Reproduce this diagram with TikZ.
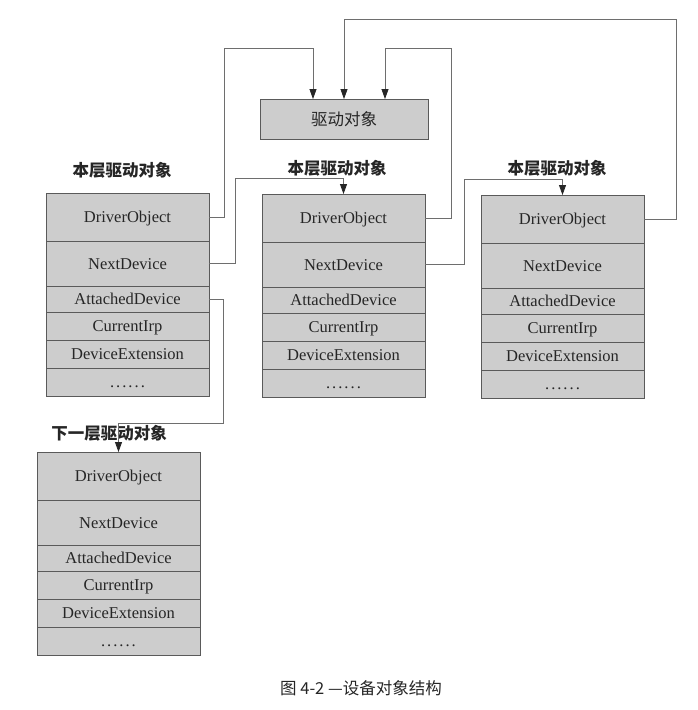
\documentclass[tikz,border=0pt]{standalone}
\usepackage{fontspec}
\setmainfont{Liberation Serif}
\newfontfamily\cjk{Noto Sans CJK SC}
\usetikzlibrary{arrows.meta,positioning}
\definecolor{boxfill}{HTML}{CDCDCD}
\definecolor{boxline}{HTML}{5A5A5A}
\definecolor{wire}{HTML}{6E6E6E}
\definecolor{ink}{HTML}{262626}
\tikzset{
  row/.style={draw=boxline, fill=boxfill, line width=0.9pt, minimum width=163pt,
    inner sep=0pt, outer sep=0pt, anchor=north, text=ink, text height=12pt, text depth=1pt,
    font=\fontsize{16.5}{18}\selectfont},
  conn/.style={draw=wire, line width=0.8pt, -{Triangle[length=10pt,width=7pt,color=ink]}},
  lbl/.style={text=ink, font=\cjk\bfseries\fontsize{16.5}{18}\selectfont, inner sep=0pt},
}
\newcommand{\rowdots}{.\kern2pt.\kern2pt.\kern2pt.\kern2pt.\kern2pt.}
\newcommand{\devblock}[3]{%
  \node[row, minimum height=48pt] (#1do) at (#2,#3) {DriverObject};
  \node[row, minimum height=45pt] (#1nd) at (#1do.south) {NextDevice};
  \node[row, minimum height=26pt] (#1ad) at (#1nd.south) {AttachedDevice};
  \node[row, minimum height=28pt] (#1ci) at (#1ad.south) {CurrentIrp};
  \node[row, minimum height=28pt] (#1de) at (#1ci.south) {DeviceExtension};
  \node[row, minimum height=28pt] (#1dt) at (#1de.south) {\rowdots};
}
\begin{document}
\begin{tikzpicture}[x=1pt,y=-1pt]
\useasboundingbox[fill=white] (0,0) rectangle (698,710);

% driver object
\node[draw=boxline, fill=boxfill, line width=0.9pt, minimum width=168pt, minimum height=40pt,
  inner sep=0pt, outer sep=0pt, text=ink, font=\cjk\fontsize{16.5}{18}\selectfont] (drv) at (344,119) {驱动对象};

% device blocks
\devblock{a}{127.5}{193}
\devblock{b}{343.5}{194}
\devblock{c}{562.5}{195}
\devblock{d}{118.5}{452}

% labels
\node[lbl] (la) at (122,170) {本层驱动对象};
\node[lbl] (lb) at (337,168) {本层驱动对象};
\node[lbl] (lc) at (557,168) {本层驱动对象};
\node[lbl] (ld) at (109,433) {下一层驱动对象};

% bend points
\coordinate (k1) at (224,48);
\coordinate (k2) at (451,48);
\coordinate (k3) at (676,19);
\coordinate (k4) at (235,178);
\coordinate (k5) at (464,179);
\coordinate (k6) at (223,423);

% connectors
\draw[conn] (ado.east) -| (k1) -| ([xshift=-31pt]drv.north);
\draw[conn] (bdo.east) -| (k2) -| ([xshift=41pt]drv.north);
\draw[conn] (cdo.east) -| (k3) -| (drv.north);
\draw[conn] (and.east) -| (k4) -| (bdo.north);
\draw[conn] (bnd.east) -| (k5) -| (cdo.north);
\draw[conn] (aad.east) -| (k6) -| (ddo.north);

% caption
\node[text=ink, font=\cjk\fontsize{16.5}{18}\selectfont, inner sep=0pt] (cap) at (361,688) {图 4-2 —设备对象结构};
\end{tikzpicture}
\end{document}
